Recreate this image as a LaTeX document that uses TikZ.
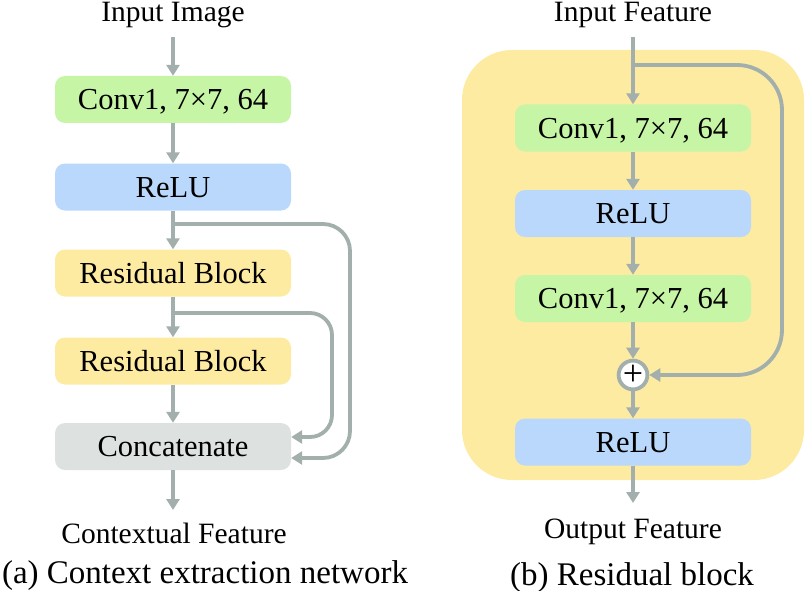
\documentclass[tikz,border=0pt]{standalone}
\usepackage{fontspec}
\setmainfont{Liberation Serif}
\usetikzlibrary{arrows.meta}
\definecolor{cgreen}{HTML}{C6F5A6}
\definecolor{cblue}{HTML}{B9D8FB}
\definecolor{cyellow}{HTML}{FDEBA1}
\definecolor{cgray}{HTML}{DDE2E0}
\definecolor{cline}{HTML}{A2AFAC}
\begin{document}
\begin{tikzpicture}[x=1pt,y=-1pt,
  box/.style={rounded corners=10pt, minimum width=236pt, minimum height=47pt,
    text height=20pt, text depth=0pt, inner sep=0pt, font=\fontsize{30.5}{36}\selectfont},
  conn/.style={draw=cline, line width=3.8pt, -{Triangle[length=11pt,width=13pt]}},
  lbl/.style={anchor=base, inner sep=0pt, font=\fontsize{29.5}{35}\selectfont},
  captext/.style={anchor=base, inner sep=0pt, font=\fontsize{33}{40}\selectfont},
  panelbg/.style={fill=cyellow, rounded corners=50pt, minimum width=342pt, minimum height=430pt, inner sep=0pt},
  plusnode/.style={circle, draw=cline, line width=3.8pt, fill=white, minimum size=27pt, inner sep=0pt, font=\fontsize{36}{36}\selectfont}
]
\useasboundingbox (0,0) rectangle (805,591);

% ---------- (a) ----------
\node[lbl] (tin) at (173,22) {Input Image};
\node[box, fill=cgreen] (conv1) at (173,99.5) {Conv1, 7×7, 64};
\node[box, fill=cblue] (relu1) at (173,187) {ReLU};
\node[box, fill=cyellow] (rb1) at (173,273) {Residual Block};
\node[box, fill=cyellow] (rb2) at (173,361) {Residual Block};
\node[box, fill=cgray] (cat) at (173,446.5) {Concatenate};
\node[lbl] (tout) at (174,543) {Contextual Feature};
\node[captext] (capa) at (205,583) {(a) Context extraction network};

\coordinate (a0) at (173,37);
\coordinate (a1) at (173,510);
\coordinate (s1) at (173,224);
\coordinate (s2) at (173,313);
\draw[conn] (a0) -- (conv1.north);
\draw[conn] (conv1.south) -- (relu1.north);
\draw[conn] (relu1.south) -- (rb1.north);
\draw[conn] (rb1.south) -- (rb2.north);
\draw[conn] (rb2.south) -- (cat.north);
\draw[conn] (cat.south) -- (a1);
\draw[conn, rounded corners=27pt] (s1) -- (350,224) -- (350,458) -- ([yshift=-11.5pt]cat.east);
\draw[conn, rounded corners=22pt] (s2) -- (332,313) -- (332,437) -- ([yshift=9.5pt]cat.east);

% ---------- (b) ----------
\node[panelbg] (panel) at (633,265) {};
\node[lbl] (tin2) at (633,22) {Input Feature};
\node[box, fill=cgreen] (rconv1) at (633,128) {Conv1, 7×7, 64};
\node[box, fill=cblue] (rrelu1) at (633,213.5) {ReLU};
\node[box, fill=cgreen] (rconv2) at (633,298.5) {Conv1, 7×7, 64};
\node[plusnode] (plus) at (633,375) {+};
\node[box, fill=cblue] (rrelu2) at (633,442) {ReLU};
\node[lbl] (tout2) at (633,538) {Output Feature};
\node[captext] (capb) at (632,585) {(b) Residual block};

\coordinate (b0) at (633,37);
\coordinate (b1) at (633,503);
\coordinate (s3) at (633,65);
\draw[conn] (b0) -- (rconv1.north);
\draw[conn] (rconv1.south) -- (rrelu1.north);
\draw[conn] (rrelu1.south) -- (rconv2.north);
\draw[conn] (rconv2.south) -- (plus.north);
\draw[conn] (plus.south) -- (rrelu2.north);
\draw[conn] (rrelu2.south) -- (b1);
\draw[conn, rounded corners=45pt] (s3) -- (782,65) -- (782,375) -- (plus.east);
\end{tikzpicture}
\end{document}
